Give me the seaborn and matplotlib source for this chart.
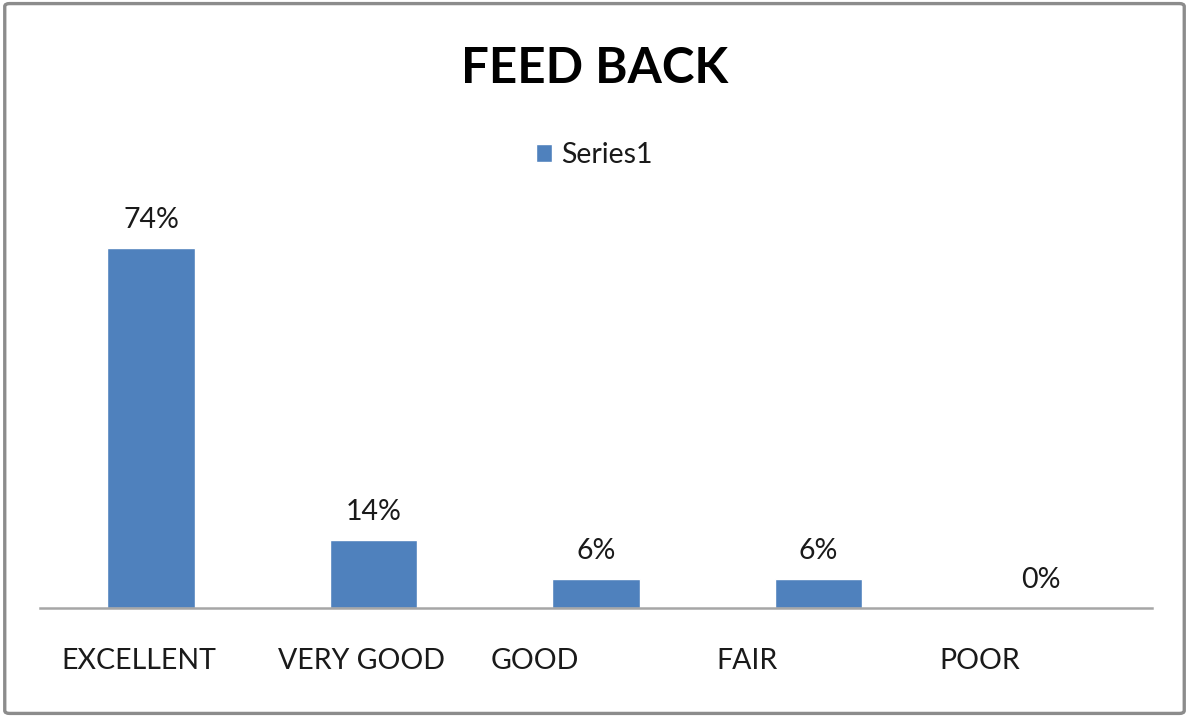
import matplotlib
matplotlib.use("Agg")
import matplotlib.pyplot as plt
from matplotlib.patches import FancyBboxPatch
import seaborn as sns
import pandas as pd

# Feedback ratings (percent of responses)
categories = ["EXCELLENT", "VERY GOOD", "GOOD", "FAIR", "POOR"]
values = [74, 14, 6, 6, 0]
series_name = "Series1"
title = "FEED BACK"

BAR_COLOR = "#4F81BD"
TEXT_COLOR = "#1a1a1a"
FS = 20.5

sns.set_theme(style="white")
plt.rcParams["font.family"] = ["Lato", "DejaVu Sans"]

df = pd.DataFrame({"rating": categories, "pct": values})

fig = plt.figure(figsize=(11.89, 7.17), dpi=100)
fig.patch.set_facecolor("white")

# outer chart frame
frame = FancyBboxPatch((0.004, 0.005), 0.992, 0.99,
                       boxstyle="round,pad=0,rounding_size=0.004",
                       transform=fig.transFigure, facecolor="none",
                       edgecolor="#8C8C8C", linewidth=2.4, zorder=0)
fig.patches.append(frame)

ax = fig.add_axes([0.0334, 0.1520, 0.9357, 0.5426])
sns.barplot(data=df, x="rating", y="pct", color=BAR_COLOR, width=0.395,
            saturation=1, label=series_name, ax=ax)

ax.set_ylim(0, 80)
ax.set_xlim(-0.5, len(categories) - 0.5)
ax.set_yticks([])
ax.set_xlabel("")
ax.set_ylabel("")
for side in ("top", "right", "left"):
    ax.spines[side].set_visible(False)
ax.spines["bottom"].set_color("#A6A6A6")
ax.spines["bottom"].set_linewidth(1.8)

# value labels above each bar
for container in ax.containers:
    ax.bar_label(container, fmt="%d%%", padding=11, fontsize=FS,
                 color=TEXT_COLOR)

# category labels, left-aligned within each slot
label_offsets = [0.099, 0.072, 0.027, 0.040, 0.045]
ax.set_xticks([i - 0.5 + off for i, off in enumerate(label_offsets)])
ax.set_xticklabels(categories, ha="left", fontsize=FS, color=TEXT_COLOR)
ax.tick_params(axis="x", length=0, pad=29)

fig.text(0.5, 0.905, title, ha="center", va="center", fontsize=35.5,
         fontweight="bold", color="black")

leg = ax.legend(loc="center", bbox_to_anchor=(0.5, 0.784),
                bbox_transform=fig.transFigure, frameon=False,
                fontsize=FS, handlelength=0.58, handleheight=0.58,
                handletextpad=0.32)
for t in leg.get_texts():
    t.set_color(TEXT_COLOR)

fig.savefig("out.png", dpi=100, facecolor="white")
